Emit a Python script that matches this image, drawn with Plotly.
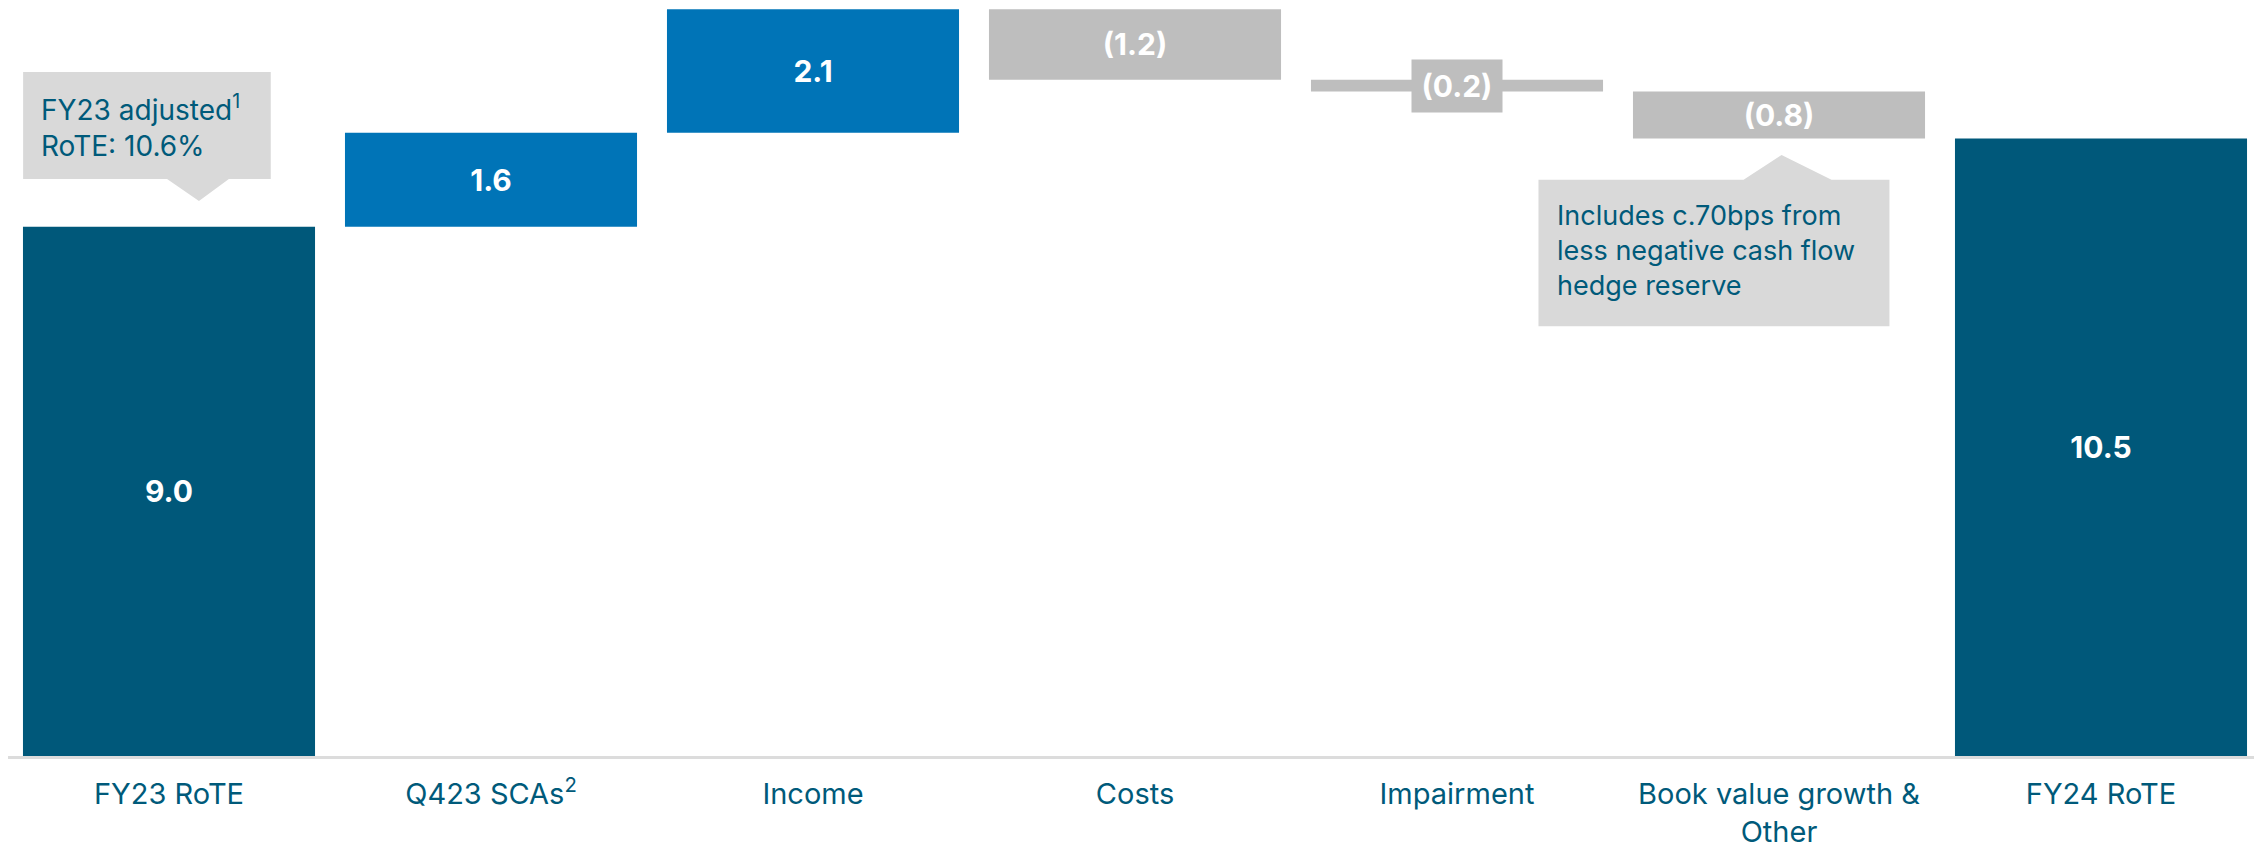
import plotly.graph_objects as go

categories = ["FY23 RoTE", "Q423 SCAs<sup>2</sup>", "Income", "Costs", "Impairment",
              "Book value growth &<br>Other", "FY24 RoTE"]
values = [9.0, 1.6, 2.1, -1.2, -0.2, -0.8, 10.5]
measures = ["absolute", "relative", "relative", "relative", "relative", "relative", "total"]
callout1_text = "FY23 adjusted<sup>1</sup><br>RoTE: 10.6%"
callout2_text = "Includes c.70bps from<br>less negative cash flow<br>hedge reserve"

DARK = "#00587A"
BLUE = "#0074B7"
GREY = "#BEBEBE"
BOX = "#D9D9D9"
TXT = "#005A7A"
FONT = "Inter"


def fmt(v):
    return f"({abs(v):.1f})" if v < 0 else f"{v:.1f}"


labels = ["<b>" + fmt(v) + "</b>" for v in values]
labels[4] = ""  # impairment label is drawn in its own box

fig = go.Figure(go.Waterfall(
    x=categories, y=values, measure=measures,
    text=labels, textinfo="text", textposition="inside", insidetextanchor="middle",
    textfont=dict(color="white", size=30, family=FONT),
    increasing=dict(marker=dict(color=BLUE)),
    decreasing=dict(marker=dict(color=GREY)),
    totals=dict(marker=dict(color=DARK)),
    connector=dict(visible=False),
    hoverinfo="skip",
))

# running totals for positioning callouts
run = []
t = 0
for v, m in zip(values, measures):
    if m == "absolute":
        t = v
    elif m == "relative":
        t += v
    run.append(t)

# callout 1 (above FY23 bar)
top0 = values[0]
bx0, bx1 = -0.453, 0.316
by0, by1 = top0 + 0.81, top0 + 2.63
ax0, ax1, axt = -0.006, 0.186, 0.093
tip = top0 + 0.44
path1 = (f"M {bx0},{by0} L {ax0},{by0} L {axt},{tip} L {ax1},{by0} L {bx1},{by0} "
         f"L {bx1},{by1} L {bx0},{by1} Z")
fig.add_shape(type="path", path=path1, xref="x", yref="y", fillcolor=BOX,
              line=dict(width=0), layer="above")
fig.add_annotation(x=-0.404, y=(by0 + by1) / 2, xref="x", yref="y", text=callout1_text,
                   showarrow=False, xanchor="left", yanchor="middle", align="left",
                   font=dict(size=28, color=TXT, family=FONT))

# callout 2 (below Book value bar)
bot5 = run[5]
cx0, cx1 = 4.253, 5.343
cy1, cy0 = bot5 - 0.70, bot5 - 3.19
dx0, dx1, dxt = 4.89, 5.163, 5.008
tip2 = bot5 - 0.28
path2 = (f"M {cx0},{cy1} L {dx0},{cy1} L {dxt},{tip2} L {dx1},{cy1} L {cx1},{cy1} "
         f"L {cx1},{cy0} L {cx0},{cy0} Z")
fig.add_shape(type="path", path=path2, xref="x", yref="y", fillcolor=BOX,
              line=dict(width=0), layer="above")
fig.add_annotation(x=4.303, y=(cy0 + cy1) / 2 + 0.04, xref="x", yref="y", text=callout2_text,
                   showarrow=False, xanchor="left", yanchor="middle", align="left",
                   font=dict(size=27, color=TXT, family=FONT))

# impairment label box
fig.add_annotation(x=4, y=(run[3] + run[4]) / 2, xref="x", yref="y",
                   text="<b>" + fmt(values[4]) + "</b>", showarrow=False,
                   bgcolor=GREY, width=86, height=48, borderpad=2,
                   font=dict(size=30, color="white", family=FONT))

fig.update_layout(
    width=2254, height=842,
    margin=dict(l=0, r=0, t=0, b=94),
    plot_bgcolor="white", paper_bgcolor="white",
    waterfallgap=0.093, showlegend=False,
    font=dict(family=FONT, color=TXT),
    xaxis=dict(showgrid=False, showline=True, linecolor="#DCDCDC", linewidth=3,
               tickfont=dict(size=29, color=TXT, family=FONT), ticks="",
               ticklabelstandoff=10),
    yaxis=dict(visible=False, range=[0, 12.72]),
)

fig.write_html("out.html")
